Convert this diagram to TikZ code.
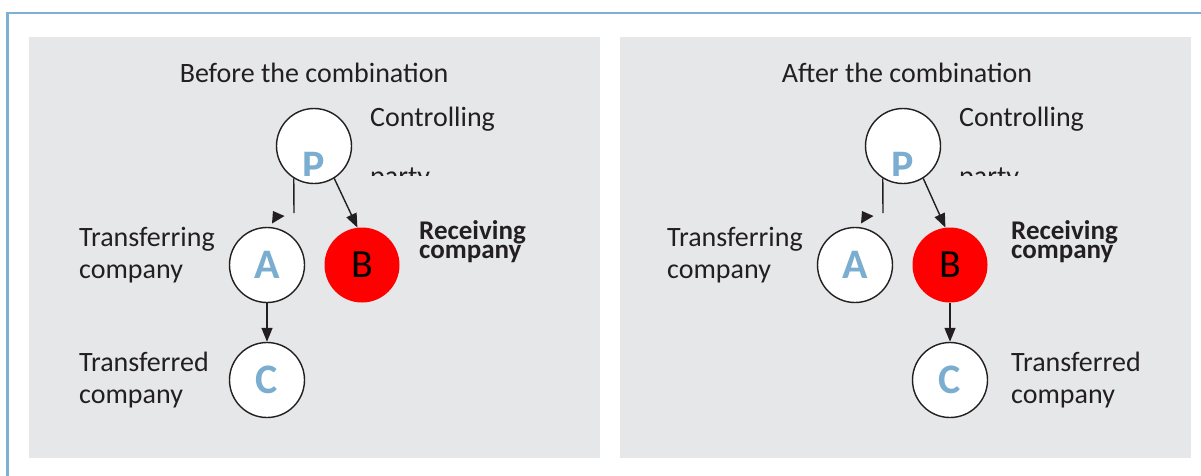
\documentclass[tikz,border=0pt]{standalone}
\usepackage{fontspec}
\setmainfont{Carlito}
\usepackage{tikz}
\usetikzlibrary{arrows.meta,calc}
\definecolor{panelgray}{HTML}{E6E7E9}
\definecolor{framblue}{HTML}{7FB0CF}
\definecolor{letblue}{HTML}{7AADCF}
\definecolor{inkgray}{HTML}{231F20}
\tikzset{
  firm/.style={circle,draw=inkgray,line width=1.4pt,fill=white,minimum size=75pt,inner sep=0pt},
  recv/.style={circle,fill=red,minimum size=75pt,inner sep=0pt,font=\fontsize{40}{40}\selectfont,text=black},
  letter/.style={font=\fontsize{42}{42}\selectfont\bfseries,text=letblue,inner sep=0pt},
  txt/.style={font=\fontsize{28}{32}\selectfont,text=inkgray,align=left,inner sep=0pt},
  btxt/.style={font=\fontsize{27}{19}\selectfont\bfseries,text=inkgray,align=left,inner sep=0pt},
  arr/.style={line width=1.4pt,draw=inkgray,-{Triangle[length=14pt,width=11pt]}},
  stub/.style={line width=1.4pt,draw=inkgray}
}
\begin{document}
\begin{tikzpicture}[x=1pt,y=-1pt]
\useasboundingbox (0,0) rectangle (1201,475);
\draw[framblue,line width=2.2pt] (7.5,13) rectangle (1215,490);
\fill[panelgray] (29,37) rectangle (600,458);
\fill[panelgray] (620,37) rectangle (1191,458);

% before
\node (t1) at (314,73) [txt] {Before the combination};
\node (P1) at (314,146) [firm] {};
\node (A1) at (267,265) [firm] {};
\node (A1l) at (267,265) [letter] {A};
\node (B1) at (362,265) [recv] {B};
\node (C1) at (267,380) [firm] {};
\node (C1l) at (267,380) [letter] {C};
\node (ctl1) at (370,119) [txt,anchor=west] {Controlling};
\begin{scope}
\clip (200,100) rectangle (600,175);
\node (P1l) at (314,166) [letter] {P};
\node (pty1) at (370,179) [txt,anchor=west] {party};
\end{scope}
\node (tfg1) at (79,255) [txt,anchor=west] {Transferring\\company};
\node (tfd1) at (79,380) [txt,anchor=west] {Transferred\\company};
\node (rcv1) at (419,242) [btxt,anchor=west] {Receiving\\company};
\coordinate (k1) at (294,213);
\coordinate (h1) at (272,223.5);
\draw[stub] (P1.238) -- (k1);
\fill[inkgray] (h1) -- ++(1,-12.5) -- ++(11.5,5) -- cycle;
\draw[arr] (P1.302) -- (B1.97);
\draw[arr] (A1) -- (C1);

% after
\node (t2) at (907,73) [txt] {After the combination};
\node (P2) at (903,146) [firm] {};
\node (A2) at (855,265) [firm] {};
\node (A2l) at (855,265) [letter] {A};
\node (B2) at (950,265) [recv] {B};
\node (C2) at (950,380) [firm] {};
\node (C2l) at (950,380) [letter] {C};
\node (ctl2) at (959,119) [txt,anchor=west] {Controlling};
\begin{scope}
\clip (790,100) rectangle (1190,175);
\node (P2l) at (903,166) [letter] {P};
\node (pty2) at (959,179) [txt,anchor=west] {party};
\end{scope}
\node (tfg2) at (667,255) [txt,anchor=west] {Transferring\\company};
\node (tfd2) at (1011,380) [txt,anchor=west] {Transferred\\company};
\node (rcv2) at (1011,242) [btxt,anchor=west] {Receiving\\company};
\coordinate (k2) at (883,213);
\coordinate (h2) at (861,223.5);
\draw[stub] (P2.238) -- (k2);
\fill[inkgray] (h2) -- ++(1,-12.5) -- ++(11.5,5) -- cycle;
\draw[arr] (P2.302) -- (B2.97);
\draw[arr] (B2) -- (C2);
\end{tikzpicture}
\end{document}
